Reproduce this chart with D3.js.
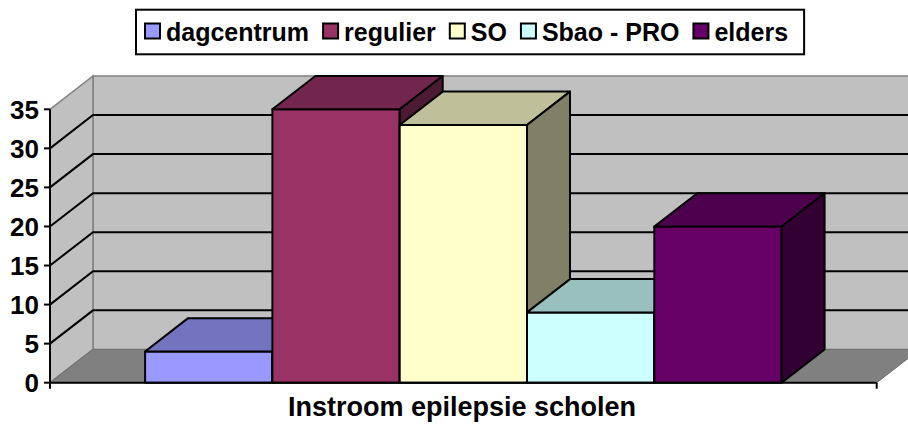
<!DOCTYPE html>
<html>
<head>
<meta charset="utf-8">
<script src="https://cdn.jsdelivr.net/npm/d3@7"></script>
<style>
  body { margin: 0; background: #fff; }
  text { font-family: "Liberation Sans", Arial, sans-serif; font-weight: bold; fill: #000; }
</style>
</head>
<body>
<div id="chart"></div>
<script>
var width = 908,
    height = 426;

// data
var category = ["Instroom epilepsie scholen"];
var series = ["dagcentrum", "regulier", "SO", "Sbao - PRO", "elders"];
var values = [4, 35, 33, 9, 20];
var colors = ["#9999FF", "#993366", "#FFFFCC", "#CCFFFF", "#660066"];
var yTicks = [0, 5, 10, 15, 20, 25, 30, 35];

// 3d depth offset of the walls / columns
var depth = {dx: 43, dy: -33.3};
var plot = {left: 50, right: 876.7, bottom: 382.7, top: 109.3};

var svg = d3.select("#chart").append("svg")
  .attr("width", width)
  .attr("height", height);

var y = d3.scaleLinear()
  .domain([0, 35])
  .range([plot.bottom, plot.top]);

var x0 = d3.scaleBand()
  .domain(category)
  .range([plot.left, plot.right])
  .padding(0.13);

var x1 = d3.scaleBand()
  .domain(series)
  .range([0, x0.bandwidth()]);

function shade(c, f) {
  var r = d3.rgb(c);
  return d3.rgb(r.r * f, r.g * f, r.b * f).formatHex();
}

function pts(arr) {
  return arr.map(function(p){ return p[0] + "," + p[1]; }).join(" ");
}

var bx = plot.left + depth.dx,
    bRight = plot.right + depth.dx,
    bTop = y(35) + depth.dy,
    bBottom = y(0) + depth.dy;

// back wall
svg.append("polygon")
  .attr("points", pts([[bx, bTop], [bRight, bTop], [bRight, bBottom], [bx, bBottom]]))
  .style("fill", "#C0C0C0")
  .style("stroke", "#808080")
  .style("stroke-width", 1.5);

// side wall
svg.append("polygon")
  .attr("points", pts([[plot.left, y(35)], [bx, bTop], [bx, bBottom], [plot.left, y(0)]]))
  .style("fill", "#C0C0C0")
  .style("stroke", "#808080")
  .style("stroke-width", 1.5);

// floor
svg.append("polygon")
  .attr("points", pts([[plot.left, y(0)], [bx, bBottom], [bRight, bBottom], [plot.right, y(0)]]))
  .style("fill", "#808080")
  .style("stroke", "#707070")
  .style("stroke-width", 1);

// gridlines (side wall + back wall)
svg.selectAll("polyline.grid")
  .data(yTicks.filter(function(d){ return d > 0 && d < 35; }))
  .enter()
  .append("polyline")
  .attr("class", "grid")
  .attr("points", function(d){
    return pts([[plot.left, y(d)], [bx, y(d) + depth.dy], [bRight, y(d) + depth.dy]]);
  })
  .style("fill", "none")
  .style("stroke", "#000")
  .style("stroke-width", 2);

// columns, drawn left to right so the next front face hides the previous side
var bars = series.map(function(s, i){
  return {name: s, value: values[i], color: colors[i]};
});

svg.selectAll("g.bar")
  .data(bars)
  .enter()
  .append("g")
  .attr("class", "bar")
  .each(function(d){
    var el = d3.select(this),
        xl = x0(category[0]) + x1(d.name),
        xr = xl + x1.bandwidth(),
        yt = y(d.value),
        yb = y(0);
    el.append("polygon")
      .attr("points", pts([[xl, yb], [xl, yt], [xr, yt], [xr, yb]]))
      .style("fill", d.color);
    el.append("polygon")
      .attr("points", pts([[xl, yt], [xl + depth.dx, yt + depth.dy], [xr + depth.dx, yt + depth.dy], [xr, yt]]))
      .style("fill", shade(d.color, 0.75));
    el.append("polygon")
      .attr("points", pts([[xr, yt], [xr + depth.dx, yt + depth.dy], [xr + depth.dx, yb + depth.dy], [xr, yb]]))
      .style("fill", shade(d.color, 0.5));
    el.selectAll("polygon")
      .style("stroke", "#000")
      .style("stroke-width", 2)
      .style("stroke-linejoin", "round");
  });

// value axis
svg.append("line")
  .attr("x1", plot.left).attr("x2", plot.left)
  .attr("y1", y(35)).attr("y2", y(0))
  .style("stroke", "#000").style("stroke-width", 2);

svg.selectAll("line.ytick")
  .data(yTicks)
  .enter()
  .append("line")
  .attr("class", "ytick")
  .attr("x1", plot.left - 6).attr("x2", plot.left)
  .attr("y1", function(d){ return y(d); })
  .attr("y2", function(d){ return y(d); })
  .style("stroke", "#000").style("stroke-width", 2);

svg.selectAll("text.ylab")
  .data(yTicks)
  .enter()
  .append("text")
  .attr("class", "ylab")
  .attr("x", 39)
  .attr("y", function(d){ return y(d) + 9.5; })
  .style("text-anchor", "end")
  .style("font-size", "26px")
  .text(function(d){ return d; });

// category axis
svg.append("line")
  .attr("x1", plot.left).attr("x2", plot.right)
  .attr("y1", y(0)).attr("y2", y(0))
  .style("stroke", "#000").style("stroke-width", 2);

svg.selectAll("line.xtick")
  .data(x0.range())
  .enter()
  .append("line")
  .attr("class", "xtick")
  .attr("x1", function(d){ return d; }).attr("x2", function(d){ return d; })
  .attr("y1", y(0)).attr("y2", y(0) + 6)
  .style("stroke", "#000").style("stroke-width", 2);

svg.append("text")
  .attr("x", 462)
  .attr("y", 416)
  .style("text-anchor", "middle")
  .style("font-size", "27px")
  .text(category[0]);

// legend
var legend = svg.append("g");
var box = legend.append("rect")
  .attr("y", 9.7)
  .attr("height", 44.6)
  .style("fill", "#fff")
  .style("stroke", "#000")
  .style("stroke-width", 2);

var lx = 145;
bars.forEach(function(d){
  legend.append("rect")
    .attr("x", lx).attr("y", 23.5)
    .attr("width", 15).attr("height", 15)
    .style("fill", d.color)
    .style("stroke", "#000")
    .style("stroke-width", 2);
  var t = legend.append("text")
    .attr("x", lx + 21)
    .attr("y", 40.5)
    .style("font-size", "25px")
    .text(d.name);
  lx += 21 + t.node().getComputedTextLength() + 14;
});
box.attr("x", 136).attr("width", lx - 14 + 16 - 136);
</script>
</body>
</html>
